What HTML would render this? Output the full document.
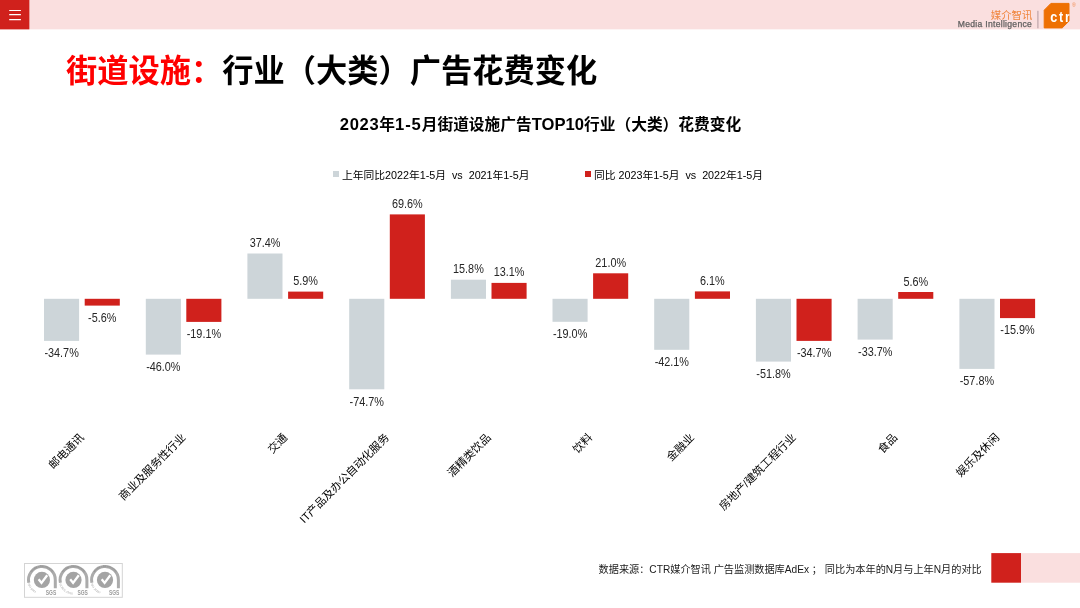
<!DOCTYPE html>
<html lang="zh-CN">
<head>
<meta charset="utf-8">
<title>街道设施：行业（大类）广告花费变化</title>
<style>
html,body{margin:0;padding:0;background:#fff;}
body{width:1080px;height:608px;position:relative;overflow:hidden;font-family:"Liberation Sans","Noto Sans CJK SC",sans-serif;color:#000;}
.title{position:absolute;left:66px;top:48.6px;font-size:31.25px;font-weight:bold;white-space:nowrap;line-height:46px;letter-spacing:0;}
.title .r{color:#ff0000;}
.subtitle{position:absolute;left:0.5px;width:1080px;top:112.7px;text-align:center;font-size:15.72px;font-weight:bold;line-height:24px;white-space:nowrap;}
.legend{position:absolute;top:168px;font-size:10.75px;line-height:14px;white-space:pre;color:#000;}
.legend b{position:absolute;left:-8.8px;top:3.4px;width:5.8px;height:5.5px;}
svg.chart{position:absolute;left:0;top:0;}
svg.hdr{position:absolute;left:0;top:0;}
svg.ftr{position:absolute;left:990px;top:553px;}
.dl{font-family:"Liberation Sans",sans-serif;font-size:12.2px;text-anchor:middle;fill:#262626;}
.cat{font-family:"Liberation Sans","Noto Sans CJK SC",sans-serif;font-size:11.1px;text-anchor:end;fill:#000;}
.source{position:absolute;right:98.3px;top:563.3px;font-size:10.17px;line-height:14px;white-space:pre;color:#1a1a1a;}
.logo-cn{position:absolute;right:47.7px;top:9.7px;font-size:10.4px;line-height:11px;color:#f0853c;white-space:nowrap;font-weight:400;}
.logo-en{position:absolute;right:47.9px;top:18.9px;font-size:8.6px;letter-spacing:0.28px;line-height:11px;color:#606060;-webkit-text-stroke:0.25px #606060;white-space:nowrap;}
svg.ctr{position:absolute;left:1035px;top:0;}
.sgs{position:absolute;left:24px;top:563px;}
</style>
</head>
<body>
<svg class="hdr" width="1080" height="31" viewBox="0 0 1080 31">
<rect x="0" y="0" width="1080" height="29.35" fill="#fadfdf"/>
<rect x="0" y="0" width="29.35" height="29.35" fill="#d0211c"/>
<path d="M9.2 10.5H20.9M9.2 14.6H20.9M9.2 19.6H20.9" stroke="#fff" stroke-width="1.15" fill="none"/>
</svg>
<div class="logo-cn">媒介智讯</div>
<div class="logo-en">Media Intelligence</div>
<svg class="ctr" width="45" height="32" viewBox="0 0 45 32">
<defs><clipPath id="lc"><path d="M15.8 2.9 H34.5 V21.3 L27.4 28.4 H8.7 V10 Z"/></clipPath></defs>
<path d="M15.9 3.4 H34 V21.1 L27.2 27.9 H9.2 V10.2 Z" fill="#ee7003" stroke="#ee7003" stroke-width="1" stroke-linejoin="round"/>
<g clip-path="url(#lc)"><text transform="translate(15.3,21.8) scale(0.84,1)" font-family="Liberation Sans, sans-serif" font-weight="bold" font-size="15" letter-spacing="2.05" fill="#fff">ctr</text></g>
<text x="38.8" y="6.7" text-anchor="middle" font-family="Liberation Sans, sans-serif" font-size="5.2" fill="#f0894a">®</text>
<rect x="2.3" y="10.8" width="1.2" height="17.5" fill="#bda4a9"/>
</svg>
<div class="title"><span class="r">街道设施：</span>行业（大类）广告花费变化</div>
<div class="subtitle"><span style="font-size:16.6px;letter-spacing:0.65px">2023</span>年<span style="font-size:16.6px;letter-spacing:0.9px">1-5</span>月街道设施广告<span style="font-size:16.6px;letter-spacing:0">TOP10</span>行业（大类）花费变化</div>
<div class="legend" style="left:342px"><b style="background:#cdd5d9"></b>上年同比2022年1-5月  vs  2021年1-5月</div>
<div class="legend" style="left:594px"><b style="background:#d0211c"></b>同比 2023年1-5月  vs  2022年1-5月</div>
<svg class="chart" width="1080" height="608" viewBox="0 0 1080 608">
<rect x="44.0" y="298.8" width="35.1" height="42.1" fill="#cdd5d9"/>
<text class="dl" transform="translate(61.6,357.2) scale(0.89,1)">-34.7%</text>
<rect x="84.7" y="298.8" width="35.1" height="6.8" fill="#d0211c"/>
<text class="dl" transform="translate(102.2,321.9) scale(0.89,1)">-5.6%</text>
<text class="cat" transform="translate(84.7,438.2) rotate(-45)" x="0" y="0">邮电通讯</text>
<rect x="145.8" y="298.8" width="35.1" height="55.8" fill="#cdd5d9"/>
<text class="dl" transform="translate(163.3,370.9) scale(0.89,1)">-46.0%</text>
<rect x="186.3" y="298.8" width="35.1" height="23.1" fill="#d0211c"/>
<text class="dl" transform="translate(203.9,338.2) scale(0.89,1)">-19.1%</text>
<text class="cat" transform="translate(186.3,438.2) rotate(-45)" x="0" y="0">商业及服务性行业</text>
<rect x="247.4" y="253.5" width="35.1" height="45.3" fill="#cdd5d9"/>
<text class="dl" transform="translate(265.0,247.0) scale(0.89,1)">37.4%</text>
<rect x="288.1" y="291.6" width="35.1" height="7.2" fill="#d0211c"/>
<text class="dl" transform="translate(305.6,285.1) scale(0.89,1)">5.9%</text>
<text class="cat" transform="translate(288.1,438.2) rotate(-45)" x="0" y="0">交通</text>
<rect x="349.2" y="298.8" width="35.1" height="90.5" fill="#cdd5d9"/>
<text class="dl" transform="translate(366.7,405.6) scale(0.89,1)">-74.7%</text>
<rect x="389.8" y="214.4" width="35.1" height="84.4" fill="#d0211c"/>
<text class="dl" transform="translate(407.3,207.9) scale(0.89,1)">69.6%</text>
<text class="cat" transform="translate(389.8,438.2) rotate(-45)" x="0" y="0">IT产品及办公自动化服务</text>
<rect x="450.9" y="279.7" width="35.1" height="19.1" fill="#cdd5d9"/>
<text class="dl" transform="translate(468.4,273.2) scale(0.89,1)">15.8%</text>
<rect x="491.5" y="282.9" width="35.1" height="15.9" fill="#d0211c"/>
<text class="dl" transform="translate(509.0,276.4) scale(0.89,1)">13.1%</text>
<text class="cat" transform="translate(491.5,438.2) rotate(-45)" x="0" y="0">酒精类饮品</text>
<rect x="552.5" y="298.8" width="35.1" height="23.0" fill="#cdd5d9"/>
<text class="dl" transform="translate(570.1,338.1) scale(0.89,1)">-19.0%</text>
<rect x="593.1" y="273.3" width="35.1" height="25.5" fill="#d0211c"/>
<text class="dl" transform="translate(610.7,266.8) scale(0.89,1)">21.0%</text>
<text class="cat" transform="translate(593.1,438.2) rotate(-45)" x="0" y="0">饮料</text>
<rect x="654.2" y="298.8" width="35.1" height="51.0" fill="#cdd5d9"/>
<text class="dl" transform="translate(671.8,366.1) scale(0.89,1)">-42.1%</text>
<rect x="694.9" y="291.4" width="35.1" height="7.4" fill="#d0211c"/>
<text class="dl" transform="translate(712.4,284.9) scale(0.89,1)">6.1%</text>
<text class="cat" transform="translate(694.9,438.2) rotate(-45)" x="0" y="0">金融业</text>
<rect x="755.9" y="298.8" width="35.1" height="62.8" fill="#cdd5d9"/>
<text class="dl" transform="translate(773.5,377.9) scale(0.89,1)">-51.8%</text>
<rect x="796.5" y="298.8" width="35.1" height="42.1" fill="#d0211c"/>
<text class="dl" transform="translate(814.1,357.2) scale(0.89,1)">-34.7%</text>
<text class="cat" transform="translate(796.5,438.2) rotate(-45)" x="0" y="0">房地产/建筑工程行业</text>
<rect x="857.6" y="298.8" width="35.1" height="40.8" fill="#cdd5d9"/>
<text class="dl" transform="translate(875.2,355.9) scale(0.89,1)">-33.7%</text>
<rect x="898.2" y="292.0" width="35.1" height="6.8" fill="#d0211c"/>
<text class="dl" transform="translate(915.8,285.5) scale(0.89,1)">5.6%</text>
<text class="cat" transform="translate(898.2,438.2) rotate(-45)" x="0" y="0">食品</text>
<rect x="959.4" y="298.8" width="35.1" height="70.1" fill="#cdd5d9"/>
<text class="dl" transform="translate(976.9,385.2) scale(0.89,1)">-57.8%</text>
<rect x="1000.0" y="298.8" width="35.1" height="19.3" fill="#d0211c"/>
<text class="dl" transform="translate(1017.5,334.4) scale(0.89,1)">-15.9%</text>
<text class="cat" transform="translate(1000.0,438.2) rotate(-45)" x="0" y="0">娱乐及休闲</text>
</svg>
<svg class="sgs" width="99" height="35" viewBox="0 0 99 35"><rect x="0.5" y="0.5" width="97.8" height="33.8" fill="#fff" stroke="#d4d4d4" stroke-width="1"/><g transform="translate(17.9,16.9)">
<path d="M-13.1 2.8 A13.4 13.4 0 1 1 13.4 0 V8.4" fill="none" stroke="#ababab" stroke-width="3"/>
<path id="tp17" d="M-10.2 -7.6 A12.7 12.7 0 0 1 10.2 -7.6" fill="none"/>
<text font-family="Liberation Sans, sans-serif" font-size="2.3" font-weight="bold" fill="#8e8e8e"><textPath href="#tp17" startOffset="50%" text-anchor="middle">SYSTEM CERTIFICATION</textPath></text>
<circle cx="0" cy="0" r="8.1" fill="#a4a4a4"/>
<path d="M-3.3 -0.7 L-0.4 3 L5.3 -4.7" fill="none" stroke="#fff" stroke-width="2.3"/>
<text transform="translate(3.9,15) scale(0.62,1)" font-family="Liberation Sans, sans-serif" font-weight="bold" font-size="8" fill="#9c9c9c">SGS</text>
<path id="lp17" d="M-14.25 3.2 A14.6 14.6 0 0 0 1 14.57" fill="none"/>
<text font-family="Liberation Sans, sans-serif" font-size="2.9" fill="#a2a2a2"><textPath href="#lp17" startOffset="0.6">ISO 9001</textPath></text>
</g><g transform="translate(49.5,16.9)">
<path d="M-13.1 2.8 A13.4 13.4 0 1 1 13.4 0 V8.4" fill="none" stroke="#ababab" stroke-width="3"/>
<path id="tp49" d="M-10.2 -7.6 A12.7 12.7 0 0 1 10.2 -7.6" fill="none"/>
<text font-family="Liberation Sans, sans-serif" font-size="2.3" font-weight="bold" fill="#8e8e8e"><textPath href="#tp49" startOffset="50%" text-anchor="middle">SYSTEM CERTIFICATION</textPath></text>
<circle cx="0" cy="0" r="8.1" fill="#a4a4a4"/>
<path d="M-3.3 -0.7 L-0.4 3 L5.3 -4.7" fill="none" stroke="#fff" stroke-width="2.3"/>
<text transform="translate(3.9,15) scale(0.62,1)" font-family="Liberation Sans, sans-serif" font-weight="bold" font-size="8" fill="#9c9c9c">SGS</text>
<path id="lp49" d="M-14.25 3.2 A14.6 14.6 0 0 0 1 14.57" fill="none"/>
<text font-family="Liberation Sans, sans-serif" font-size="2.7" fill="#a2a2a2"><textPath href="#lp49" startOffset="0.6">ISO/IEC 27001</textPath></text>
</g><g transform="translate(81,16.9)">
<path d="M-13.1 2.8 A13.4 13.4 0 1 1 13.4 0 V8.4" fill="none" stroke="#ababab" stroke-width="3"/>
<path id="tp81" d="M-10.2 -7.6 A12.7 12.7 0 0 1 10.2 -7.6" fill="none"/>
<text font-family="Liberation Sans, sans-serif" font-size="2.3" font-weight="bold" fill="#8e8e8e"><textPath href="#tp81" startOffset="50%" text-anchor="middle">SYSTEM CERTIFICATION</textPath></text>
<circle cx="0" cy="0" r="8.1" fill="#a4a4a4"/>
<path d="M-3.3 -0.7 L-0.4 3 L5.3 -4.7" fill="none" stroke="#fff" stroke-width="2.3"/>
<text transform="translate(3.9,15) scale(0.62,1)" font-family="Liberation Sans, sans-serif" font-weight="bold" font-size="8" fill="#9c9c9c">SGS</text>
<path id="lp81" d="M-14.25 3.2 A14.6 14.6 0 0 0 1 14.57" fill="none"/>
<text font-family="Liberation Sans, sans-serif" font-size="2.9" fill="#a2a2a2"><textPath href="#lp81" startOffset="0.6">ISO 20252</textPath></text>
</g></svg>
<div class="source">数据来源：CTR媒介智讯 广告监测数据库AdEx ； 同比为本年的N月与上年N月的对比</div>
<svg class="ftr" width="90" height="31" viewBox="0 0 90 31"><rect x="30" y="0.1" width="60" height="29.6" fill="#fadfdf"/><rect x="1.3" y="0.1" width="29.7" height="29.6" fill="#d0211c"/></svg>
</body>
</html>
